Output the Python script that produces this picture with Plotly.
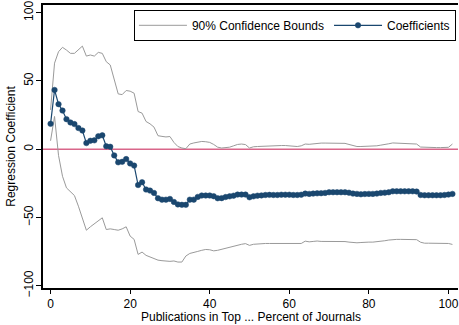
import plotly.graph_objects as go

# Cut-off: publications in the top x percent of journals
cutoff = list(range(0, 102))

coefficients = [
    18.6, 43.4, 33.0, 28.3, 22.0, 19.6, 18.4, 15.5, 13.7, 4.5,
    6.2, 6.5, 9.5, 10.2, 2.2, 1.8, -4.5, -9.6, -9.2, -7.2,
    -10.4, -12.0, -26.2, -24.2, -29.5, -30.3, -32.0, -35.9, -36.9, -36.9,
    -36.4, -38.6, -40.4, -40.7, -40.7, -36.9, -36.9, -34.9, -33.9, -33.9,
    -33.9, -34.4, -35.9, -35.8, -35.0, -34.5, -34.0, -33.2, -33.2, -33.2,
    -35.2, -34.5, -34.0, -33.8, -33.5, -33.4, -33.5, -33.5, -33.3, -33.3,
    -33.3, -33.5, -33.5, -33.3, -32.5, -32.7, -32.5, -32.3, -32.2, -32.0,
    -31.5, -31.5, -31.5, -31.5, -31.5, -31.8, -32.5, -32.7, -33.0, -32.8,
    -32.7, -32.7, -32.5, -32.0, -31.8, -31.5, -30.8, -30.8, -30.8, -30.8,
    -30.8, -30.8, -31.0, -33.5, -33.7, -33.7, -33.7, -33.7, -33.7, -33.5,
    -33.2, -32.7,
]

upper_bound = [
    28.8, 63.0, 71.4, 74.6, 72.6, 70.2, 70.2, 73.1, 75.5, 68.2,
    69.0, 68.2, 70.9, 70.2, 64.1, 61.7, 50.7, 40.5, 40.0, 43.0,
    42.5, 41.0, 27.6, 26.4, 20.3, 18.6, 16.2, 9.9, 9.4, 9.0,
    9.3, 5.0, 2.0, 0.9, 0.4, 3.8, 4.6, 5.2, 5.7, 5.5,
    5.0, 3.5, 1.5, 0.9, 1.2, 1.5, 2.5, 3.5, 3.8, 3.4,
    0.9, 1.8, 2.0, 2.2, 2.3, 2.4, 2.5, 2.6, 2.7, 2.7,
    2.5, 2.2, 2.0, 2.5, 3.8, 3.6, 4.0, 4.3, 4.5, 4.5,
    4.5, 4.5, 4.5, 4.5, 4.3, 3.5, 2.5, 2.0, 2.0, 2.0,
    2.0, 2.2, 2.5, 3.0, 3.3, 4.0, 4.6, 4.5, 4.4, 4.4,
    4.3, 4.2, 3.8, 1.6, 1.4, 1.3, 1.3, 1.2, 1.2, 1.2,
    1.4, 3.8,
]

lower_bound = [
    6.2, 24.0, -4.5, -19.8, -28.3, -30.8, -33.9, -41.7, -50.2, -59.3,
    -56.8, -54.4, -52.0, -50.2, -58.8, -58.3, -58.8, -59.3, -58.3, -56.8,
    -63.6, -66.0, -77.0, -75.3, -77.7, -78.7, -79.7, -81.2, -81.6, -82.1,
    -82.1, -81.8, -82.6, -82.6, -78.2, -76.3, -75.8, -74.8, -74.0, -73.4,
    -73.6, -74.4, -74.0, -73.2, -72.4, -71.6, -70.8, -70.0, -69.6, -69.1,
    -70.4, -69.6, -69.3, -69.0, -69.0, -69.0, -69.0, -69.0, -69.0, -69.0,
    -69.0, -69.0, -69.0, -69.0, -67.3, -67.8, -67.5, -67.2, -67.5, -67.5,
    -67.5, -67.5, -67.5, -67.3, -67.6, -68.0, -68.3, -68.5, -68.3, -68.0,
    -68.0, -68.0, -67.8, -67.5, -67.0, -66.5, -66.0, -66.0, -66.0, -66.0,
    -66.0, -66.0, -66.2, -68.1, -68.8, -68.8, -68.8, -68.8, -68.8, -68.8,
    -69.0, -69.7,
]

y_ticks = [-100, -50, 0, 50, 100]
x_ticks = [0, 20, 40, 60, 80, 100]

NAVY = "#1a476f"
GRAY = "#9a9a9a"
FONT = "Liberation Sans, Arial, sans-serif"

fig = go.Figure()

fig.add_trace(go.Scatter(
    x=cutoff, y=upper_bound, mode="lines",
    line=dict(color=GRAY, width=1),
    name="90% Confidence Bounds", legendgroup="ci",
))
fig.add_trace(go.Scatter(
    x=cutoff, y=lower_bound, mode="lines",
    line=dict(color=GRAY, width=1),
    name="90% Confidence Bounds", legendgroup="ci", showlegend=False,
))
fig.add_trace(go.Scatter(
    x=cutoff, y=coefficients, mode="lines+markers",
    line=dict(color=NAVY, width=1.2),
    marker=dict(color=NAVY, size=5.5, line=dict(color=NAVY, width=0.5)),
    name="Coefficients",
))

# reference line at zero
fig.add_shape(
    type="line", xref="paper", yref="y", x0=0, x1=1, y0=0, y1=0,
    line=dict(color="#d9668a", width=1.5), layer="below",
)

# x-axis title placed just under the tick labels
fig.add_annotation(
    text="Publications in Top ... Percent of Journals",
    xref="paper", yref="paper", x=0.5, y=0, xanchor="center",
    yanchor="middle", yshift=-29, showarrow=False, borderpad=0,
    font=dict(size=12, color="black"),
)

fig.update_layout(
    width=459, height=325,
    margin=dict(l=43, r=1, t=5, b=37),
    paper_bgcolor="white", plot_bgcolor="white",
    font=dict(family=FONT, size=12, color="black"),
    showlegend=True,
    legend=dict(
        orientation="h", x=0.995, y=0.983, xanchor="right", yanchor="top",
        bgcolor="white", bordercolor="black", borderwidth=1,
        font=dict(size=12), itemwidth=48, tracegroupgap=0,
    ),
    xaxis=dict(
        range=[-1.9, 102.4], tickvals=x_ticks, ticks="outside", ticklen=4,
        tickwidth=1, tickcolor="black",
        showline=True, linecolor="black", linewidth=1.5, mirror=True,
        showgrid=False, zeroline=False,
        tickfont=dict(size=12),
    ),
    yaxis=dict(
        range=[-101.6, 105.6], tickvals=y_ticks, ticks="outside", ticklen=5,
        tickwidth=1, tickcolor="black", tickangle=-90,
        ticklabelstandoff=-2,
        showline=True, linecolor="black", linewidth=1.5,
        showgrid=False, zeroline=False,
        title=dict(text="Regression Coefficient", standoff=4,
                   font=dict(size=12)),
        tickfont=dict(size=12),
    ),
)

fig.write_html("out.html")
